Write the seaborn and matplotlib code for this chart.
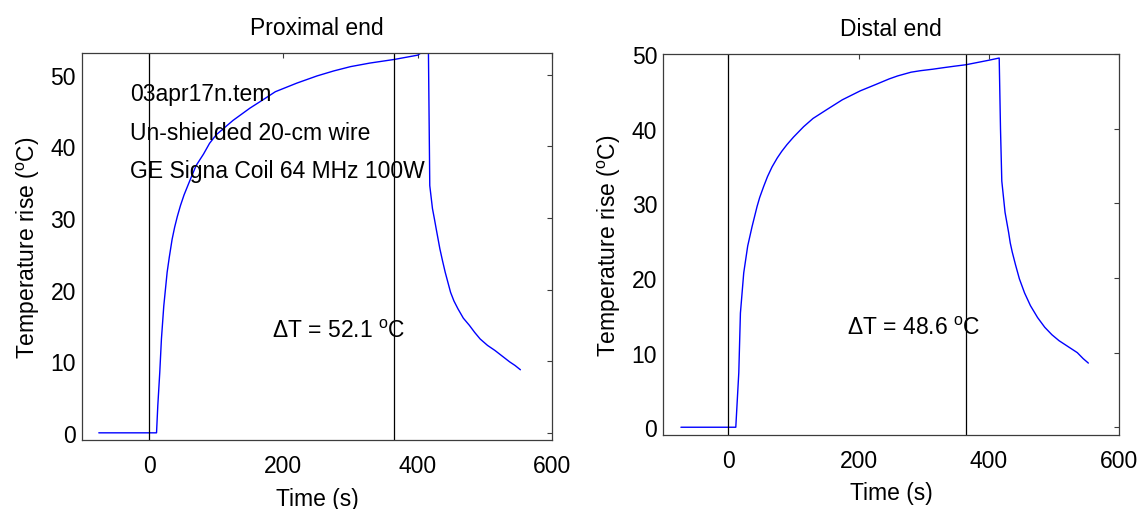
import matplotlib
matplotlib.use("Agg")
import matplotlib.pyplot as plt
import pandas as pd
import seaborn as sns

# Temperature-rise recordings (time in s, rise in deg C)
prox_t = [-75, 11, 12.9, 15.8, 18.3, 21.8, 26.8, 30, 34.2, 38, 42, 46.6, 52, 61.5,
          70, 81, 90, 100, 110, 125, 150, 170, 188, 220, 250, 275, 300, 329, 365,
          400, 408, 416, 418, 422, 425, 427.5, 433, 437, 441, 445, 449, 454, 460,
          468, 477, 485, 493, 504, 515, 526, 537, 545, 553]
prox_T = [0, 0, 3.8, 8.4, 13.1, 17.7, 22.4, 24.5, 27, 28.7, 30.2, 31.7, 33.2, 35.4,
          37.3, 38.9, 40.4, 41.6, 42.4, 43.6, 45.3, 46.5, 47.6, 48.8, 49.8, 50.5,
          51.1, 51.6, 52.1, 52.7, 53.2, 53.2, 34.5, 31.3, 29.8, 28.5, 25.7, 24.0,
          22.4, 21.0, 19.6, 18.4, 17.3, 16.0, 15.0, 14.0, 13.1, 12.2, 11.5, 10.7,
          9.9, 9.4, 8.8]

dist_t = [-73, 11.3, 13.5, 15.9, 18.4, 23.5, 29.6, 36.3, 44, 48, 54.2, 60, 67, 75,
          82, 90, 100, 115.6, 130, 151.4, 175, 202.6, 225, 247, 260, 280.6, 295,
          314, 330, 347, 365, 400, 416, 418, 420, 425, 430.5, 433, 436, 441, 447,
          455, 464, 475, 486, 497, 508, 522, 536, 545, 553]
dist_T = [0, 0, 3.5, 7.3, 15.3, 20.7, 24.3, 26.9, 29.6, 30.8, 32.3, 33.6, 34.9,
          36.1, 37.0, 37.9, 38.9, 40.3, 41.4, 42.6, 43.9, 45.1, 45.9, 46.7, 47.1,
          47.6, 47.8, 48.0, 48.2, 48.4, 48.6, 49.2, 49.5, 40, 33, 28.8, 26.1, 24.7,
          23.5, 21.8, 19.9, 18.0, 16.3, 14.7, 13.4, 12.4, 11.6, 10.8, 10.0, 9.2, 8.6]

# RF on / measurement instants
marker_times = [0, 365]

panel_titles = ["Proximal end", "Distal end"]
delta_labels = ["52.1", "48.6"]
y_tops = [53, 50]
y_ticks = [0, 10, 20, 30, 40, 50]
x_ticks = [0, 200, 400, 600]
info_lines = ["03apr17n.tem", "Un-shielded 20-cm wire", "GE Signa Coil 64 MHz 100W"]

sns.set_theme(style="white")
plt.rcParams["font.family"] = ["Liberation Sans", "DejaVu Sans"]
plt.rcParams["mathtext.fontset"] = "custom"
plt.rcParams["mathtext.rm"] = "Liberation Sans"
plt.rcParams["mathtext.it"] = "Liberation Sans:italic"
plt.rcParams["mathtext.bf"] = "Liberation Sans:bold"
plt.rcParams["text.color"] = "black"
plt.rcParams["axes.labelcolor"] = "black"
plt.rcParams["axes.titlecolor"] = "black"

FS = 16.5
spine_col = "#3c3c3c"

fig = plt.figure(figsize=(11.39, 5.10), dpi=100)
ax_l = fig.add_axes([0.0720, 0.1353, 0.4126, 0.7588])
ax_r = fig.add_axes([0.5824, 0.1457, 0.4000, 0.7459])

series = [(prox_t, prox_T), (dist_t, dist_T)]
delta_pos = [(183, 13.4), (182, 12.5)]

for i, ax in enumerate([ax_l, ax_r]):
    t, T = series[i]
    df = pd.DataFrame({"Time (s)": t, "rise": T})
    sns.lineplot(data=df, x="Time (s)", y="rise", ax=ax, color="#0000ff",
                 lw=1.0, estimator=None, sort=False)
    for mt in marker_times:
        ax.axvline(mt, color="black", lw=0.9)
    ax.set_xlim(-100, 600)
    ax.set_ylim(-1, y_tops[i])
    ax.set_xticks(x_ticks)
    ax.set_yticks(y_ticks)
    ax.tick_params(axis="both", direction="in", top=True, right=True,
                   length=3.5, width=0.8, color=spine_col, labelsize=FS,
                   labelcolor="black")
    ax.tick_params(axis="x", pad=10)
    ax.tick_params(axis="y", pad=4.5)
    for sp in ax.spines.values():
        sp.set_color(spine_col)
        sp.set_linewidth(0.9)
    ax.set_xlabel("Time (s)", fontsize=FS, labelpad=7)
    ax.set_ylabel(r"Temperature rise ($^{\rm o}$C)", fontsize=FS, labelpad=6)
    ax.set_title(panel_titles[i], fontsize=FS, pad=14)
    dx, dy = delta_pos[i]
    ax.text(dx, dy, "\u0394T = " + delta_labels[i] + r" $^{\rm o}$C",
            fontsize=FS, ha="left", va="baseline")

for k, line in enumerate(info_lines):
    ax_l.text(-28, 46.4 - 5.35 * k, line, fontsize=FS, ha="left", va="baseline")

fig.savefig("out.png", dpi=100, facecolor="white")
